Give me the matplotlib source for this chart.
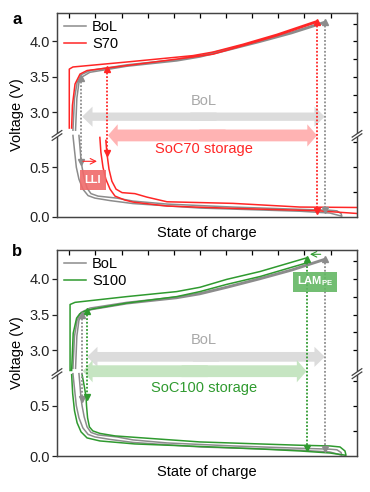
import numpy as np
import matplotlib
matplotlib.use("Agg")
import matplotlib.pyplot as plt
from matplotlib.patches import Rectangle

plt.rcParams['font.family'] = ['Liberation Sans', 'DejaVu Sans']
plt.rcParams['mathtext.fontset'] = 'custom'
plt.rcParams['mathtext.rm'] = 'Liberation Sans'
plt.rcParams['mathtext.bf'] = 'Liberation Sans:bold'

# --- data (state of charge, voltage) ---
# BoL reference cell, positive electrode loop (charge then discharge)
bol_pe_soc = [0.014, 0.020, 0.030, 0.045, 0.079, 0.220, 0.411, 0.500, 0.602, 0.730, 0.850, 0.978,
              0.978, 0.850, 0.730, 0.602, 0.500, 0.411, 0.220, 0.079, 0.049, 0.037, 0.029, 0.024]
bol_pe_v = [2.75, 3.20, 3.42, 3.53, 3.59, 3.67, 3.745, 3.80, 3.89, 4.01, 4.13, 4.28,
            4.26, 4.11, 3.99, 3.87, 3.78, 3.725, 3.65, 3.565, 3.50, 3.42, 3.20, 2.75]
# BoL negative electrode loop
bol_ne_soc = [0.014, 0.020, 0.027, 0.037, 0.052, 0.072, 0.098, 0.156, 0.244, 0.500, 0.883, 0.997, 1.043,
              1.040, 1.024, 0.997, 0.883, 0.626, 0.374, 0.244, 0.182, 0.110, 0.083, 0.068, 0.057, 0.049,
              0.045, 0.041, 0.037]
bol_ne_v = [0.82, 0.67, 0.50, 0.38, 0.28, 0.215, 0.19, 0.165, 0.135, 0.09, 0.058, 0.04, 0.008,
            0.035, 0.062, 0.068, 0.077, 0.10, 0.13, 0.16, 0.19, 0.21, 0.235, 0.29, 0.39, 0.50,
            0.57, 0.70, 0.82]

# S70 (stored at SoC70)
s70_pe_soc = [0.000, 0.000, 0.014, 0.220, 0.473, 0.550, 0.665, 0.795, 0.948,
              0.948, 0.795, 0.665, 0.550, 0.473, 0.220, 0.068, 0.041, 0.022, 0.012, 0.009]
s70_pe_v = [2.78, 3.61, 3.64, 3.71, 3.80, 3.85, 3.96, 4.10, 4.29,
            4.27, 4.08, 3.94, 3.82, 3.78, 3.66, 3.59, 3.54, 3.40, 3.10, 2.78]
s70_ne1_soc = [0.117, 0.121, 0.129, 0.140, 0.156, 0.175, 0.213, 0.244, 0.374, 0.626, 0.948, 1.131]
s70_ne1_v = [0.80, 0.65, 0.50, 0.38, 0.28, 0.21, 0.17, 0.15, 0.11, 0.087, 0.063, 0.03]
s70_ne2_soc = [0.140, 0.144, 0.152, 0.163, 0.179, 0.202, 0.251, 0.297, 0.374, 0.626, 0.883, 1.131]
s70_ne2_v = [0.77, 0.64, 0.48, 0.36, 0.28, 0.245, 0.235, 0.20, 0.153, 0.137, 0.10, 0.095]

# S100 (stored at SoC100)
s100_pe_soc = [0.003, 0.003, 0.022, 0.220, 0.411, 0.500, 0.602, 0.730, 0.908,
               0.908, 0.730, 0.602, 0.500, 0.411, 0.220, 0.092, 0.060, 0.040, 0.028, 0.015, 0.009]
s100_pe_v = [2.72, 3.64, 3.67, 3.75, 3.82, 3.88, 3.99, 4.10, 4.29,
             4.22, 4.03, 3.92, 3.82, 3.75, 3.66, 3.58, 3.55, 3.51, 3.45, 3.24, 2.72]
s100_ne_soc = [0.009, 0.013, 0.020, 0.030, 0.045, 0.068, 0.117, 0.251, 0.500, 0.730, 0.883, 0.997, 1.059,
               1.055, 1.036, 0.997, 0.883, 0.730, 0.500, 0.309, 0.175, 0.117, 0.090, 0.077, 0.070,
               0.066, 0.064, 0.057, 0.049]
s100_ne_v = [0.81, 0.62, 0.45, 0.33, 0.24, 0.18, 0.15, 0.12, 0.095, 0.07, 0.05, 0.03, 0.007,
             0.05, 0.09, 0.10, 0.107, 0.12, 0.14, 0.175, 0.20, 0.225, 0.25, 0.29, 0.38,
             0.50, 0.59, 0.70, 0.81]

# dotted guide lines: soc, top voltage, bottom voltage
a_guides_soc = [0.045, 0.144, 0.978, 0.948]
a_guides_top = [3.48, 3.61, 4.27, 4.28]
a_guides_bot = [0.55, 0.64, 0.07, 0.065]
b_guides_soc = [0.047, 0.067, 0.978, 0.908]
b_guides_top = [3.50, 3.55, 4.27, 4.28]
b_guides_bot = [0.57, 0.59, 0.067, 0.08]

# wide window arrows: soc start, soc end, voltage
a_bol_win = [0.049, 0.978, 2.94]
a_s70_win = [0.148, 0.948, 0.82]
b_bol_win = [0.068, 0.978, 2.91]
b_s100_win = [0.052, 0.908, 2.71]

yticks_left = [0.0, 0.5, 3.0, 3.5, 4.0]
yticks_right = [0.25, 0.5, 0.75, 3.0, 3.25, 3.5, 3.75, 4.0, 4.25]
xticks_top = [0.0, 0.1, 0.2, 0.3, 0.4, 0.5, 0.6, 0.7, 0.8, 0.9, 1.0]

GREY = '#8c8c8c'
RED = '#ff2626'
GREEN = '#2f9a2f'

# --- broken voltage axis as a piecewise-linear scale ---
B_LO, B_HI = 0.82, 2.68
K_LO, K_HI, GAP = 100.0, 71.4, 0.3


def fwd(v):
    v = np.asarray(v, dtype=float)
    y1 = B_LO * K_LO
    lo = v * K_LO
    mid = y1 + (v - B_LO) * GAP / (B_HI - B_LO)
    hi = y1 + GAP + (v - B_HI) * K_HI
    return np.where(v <= B_LO, lo, np.where(v >= B_HI, hi, mid))


def inv(y):
    y = np.asarray(y, dtype=float)
    y1 = B_LO * K_LO
    y2 = y1 + GAP
    return np.where(y <= y1, y / K_LO,
                    np.where(y >= y2, B_HI + (y - y2) / K_HI,
                             B_LO + (y - y1) * (B_HI - B_LO) / GAP))


YLIM = (0.0, 4.40)
XLIM = (-0.047, 1.101)


def wide_arrow(ax, x0, x1, v, color, body, head_w, head_l):
    mid = 0.5 * (x0 + x1)
    style = f"simple,head_length={head_l},head_width={head_w},tail_width={body}"
    for start, end in [(mid - 0.05, x1), (mid + 0.05, x0)]:
        ax.annotate('', xy=(end, v), xytext=(start, v),
                    arrowprops=dict(arrowstyle=style, mutation_scale=1, fc=color,
                                    ec='none', lw=0, shrinkA=0, shrinkB=0))


def setup_axes(ax):
    ax.set_yscale('function', functions=(fwd, inv))
    ax.set_ylim(*YLIM)
    ax.set_xlim(*XLIM)
    ax.set_yticks(yticks_left)
    ax.set_yticklabels([f"{t:.1f}" for t in yticks_left])
    ax.yaxis.set_minor_locator(matplotlib.ticker.NullLocator())
    ax.tick_params(axis='y', direction='out', length=3.5, width=0.9, pad=1.5,
                   labelsize=10.5, right=False, colors='#222222')
    ax.set_xticks(xticks_top)
    ax.set_xticklabels([])
    ax.tick_params(axis='x', direction='in', length=3.5, width=0.9, top=True, bottom=False)
    for sp in ax.spines.values():
        sp.set_color('#444444')
        sp.set_linewidth(0.9)
    ax.set_ylabel('Voltage (V)', fontsize=10.5, labelpad=4)
    ax.set_xlabel('State of charge', fontsize=10.5, labelpad=3)

    axr = ax.twinx()
    axr.set_yscale('function', functions=(fwd, inv))
    axr.set_ylim(*YLIM)
    axr.set_yticks(yticks_right)
    axr.yaxis.set_minor_locator(matplotlib.ticker.NullLocator())
    axr.tick_params(axis='y', direction='in', length=3, width=0.9, labelright=False)
    for sp in axr.spines.values():
        sp.set_color('#444444')
        sp.set_linewidth(0.9)

    # break marks on both vertical spines
    yb = (fwd(B_LO) - fwd(YLIM[0])) / (fwd(YLIM[1]) - fwd(YLIM[0]))
    d, dx, dy = 0.008, 0.016, 0.016
    for xs in (0.0, 1.0):
        axr.add_patch(Rectangle((xs - 0.006, yb - d), 0.012, 2 * d, transform=axr.transAxes,
                                fc='white', ec='none', clip_on=False, zorder=5))
        for off in (-d, d):
            axr.plot([xs - dx, xs + dx], [yb + off - dy, yb + off + dy], color='#444444',
                     lw=0.9, transform=axr.transAxes, clip_on=False, zorder=6)


def guides(ax, xs, tops, bots, colors):
    for x, t, b, c in zip(xs, tops, bots, colors):
        ax.plot([x, x], [t, b], color=c, lw=1.3, ls=(0, (1.0, 1.0)), zorder=3)
        ax.plot([x], [t], marker='^', ms=4, color=c, zorder=3)
        ax.plot([x], [b], marker='v', ms=4, color=c, zorder=3)


fig = plt.figure(figsize=(3.7, 4.92), dpi=100)

# ===================== panel a =====================
ax = fig.add_axes([57 / 370, 1 - 217 / 492, 300 / 370, 204 / 492])
setup_axes(ax)
wide_arrow(ax, a_bol_win[0], a_bol_win[1], a_bol_win[2], '#dcdcdc', 6.0, 14.5, 7.5)
wide_arrow(ax, a_s70_win[0], a_s70_win[1], a_s70_win[2], '#ffb3b3', 8.5, 16.0, 7.0)
ax.text(0.516, 3.16, 'BoL', color='#a8a8a8', fontsize=10.5, ha='center', va='center')
ax.text(0.516, 0.68, 'SoC70 storage', color=RED, fontsize=10.5, ha='center', va='center')

ax.plot(bol_pe_soc, bol_pe_v, color=GREY, lw=1.1, label='BoL', zorder=2)
ax.plot(bol_ne_soc, bol_ne_v, color=GREY, lw=1.1, zorder=2)
ax.plot(s70_pe_soc, s70_pe_v, color=RED, lw=1.1, label='S70', zorder=2.5)
ax.plot(s70_ne1_soc, s70_ne1_v, color=RED, lw=1.1, zorder=2.5)
ax.plot(s70_ne2_soc, s70_ne2_v, color=RED, lw=1.1, zorder=2.5)
guides(ax, a_guides_soc, a_guides_top, a_guides_bot, [GREY, RED, GREY, RED])

ax.annotate('', xy=(0.106, 0.56), xytext=(0.052, 0.56),
            arrowprops=dict(arrowstyle='->', color=RED, lw=0.8, shrinkA=0, shrinkB=0))
ax.add_patch(Rectangle((0.041, 0.27), 0.099, 0.20, fc='#f06a6a', ec='none', alpha=0.9, zorder=4))
ax.text(0.0905, 0.37, 'LLI', color='white', fontsize=8, weight='bold',
        ha='center', va='center', zorder=5)
ax.legend(loc='upper left', frameon=False, fontsize=10.5, handlelength=1.5,
          handletextpad=0.4, borderaxespad=0.3, labelspacing=0.2, borderpad=0.2)

# ===================== panel b =====================
ax = fig.add_axes([57 / 370, 1 - 456 / 492, 300 / 370, 206 / 492])
setup_axes(ax)
wide_arrow(ax, b_bol_win[0], b_bol_win[1], b_bol_win[2], '#dcdcdc', 7.0, 14.5, 7.5)
wide_arrow(ax, b_s100_win[0], b_s100_win[1], b_s100_win[2], '#c6e5c2', 8.5, 16.0, 7.0)
ax.text(0.516, 3.15, 'BoL', color='#a8a8a8', fontsize=10.5, ha='center', va='center')
ax.text(0.516, 0.68, 'SoC100 storage', color=GREEN, fontsize=10.5, ha='center', va='center')

ax.plot(bol_pe_soc, bol_pe_v, color=GREY, lw=1.1, label='BoL', zorder=2)
ax.plot(bol_ne_soc, bol_ne_v, color=GREY, lw=1.1, zorder=2)
ax.plot(s100_pe_soc, s100_pe_v, color=GREEN, lw=1.1, label='S100', zorder=2.5)
ax.plot(s100_ne_soc, s100_ne_v, color=GREEN, lw=1.1, zorder=2.5)
guides(ax, b_guides_soc, b_guides_top, b_guides_bot, [GREY, GREEN, GREY, GREEN])

ax.annotate('', xy=(0.921, 4.34), xytext=(0.962, 4.34),
            arrowprops=dict(arrowstyle='->', color=GREEN, lw=0.8, shrinkA=0, shrinkB=0))
ax.add_patch(Rectangle((0.856, 3.82), 0.168, 0.28, fc='#64b764', ec='none', alpha=0.9, zorder=4))
ax.text(0.94, 3.96, r'LAM$_{\mathbf{PE}}$', color='white', fontsize=8, weight='bold',
        ha='center', va='center', zorder=5)
ax.legend(loc='upper left', frameon=False, fontsize=10.5, handlelength=1.5,
          handletextpad=0.4, borderaxespad=0.3, labelspacing=0.2, borderpad=0.2)

fig.text(17 / 370, 1 - 20 / 492, 'a', fontsize=12, weight='bold', ha='center', va='center')
fig.text(17 / 370, 1 - 252 / 492, 'b', fontsize=12, weight='bold', ha='center', va='center')

fig.savefig('out.png', dpi=100)
